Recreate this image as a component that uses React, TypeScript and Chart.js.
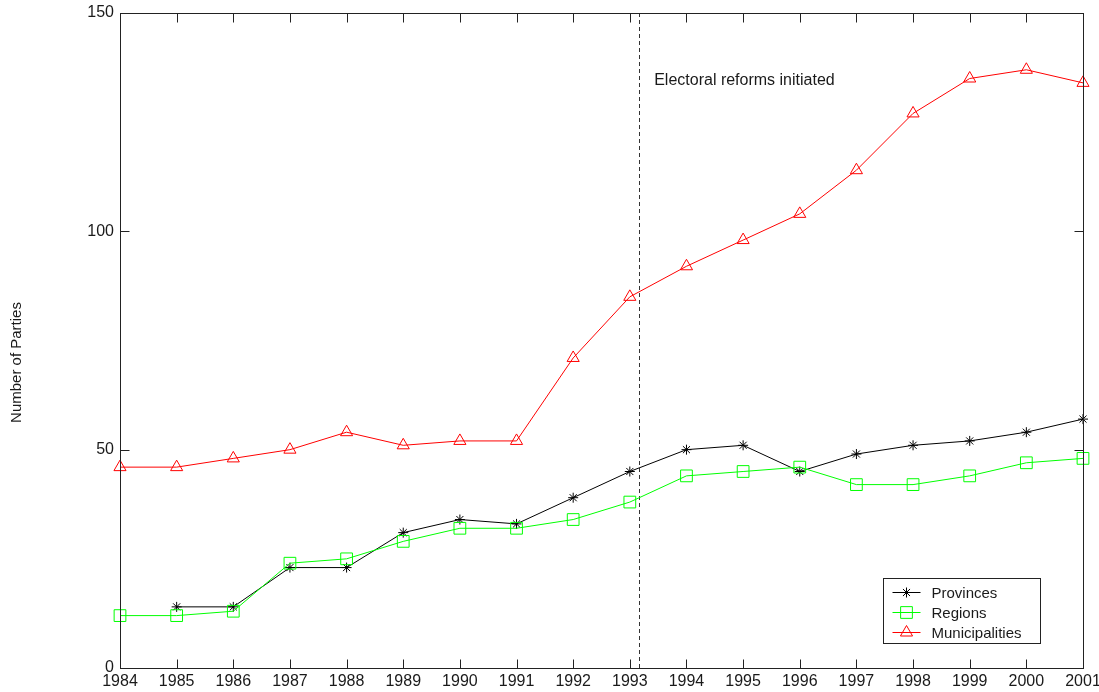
import React, { useEffect, useRef } from 'react';
import { Chart, registerables } from 'chart.js';

Chart.register(...registerables);

const years = [1984, 1985, 1986, 1987, 1988, 1989, 1990, 1991, 1992, 1993, 1994, 1995, 1996, 1997, 1998, 1999, 2000, 2001];
const provinces = [null, 14, 14, 23, 23, 31, 34, 33, 39, 45, 50, 51, 45, 49, 51, 52, 54, 57];
const regions = [12, 12, 13, 24, 25, 29, 32, 32, 34, 38, 44, 45, 46, 42, 42, 44, 47, 48];
const municipalities = [46, 46, 48, 50, 54, 51, 52, 52, 71, 85, 92, 98, 104, 114, 127, 135, 137, 134];
const seriesNames = ['Provinces', 'Regions', 'Municipalities'];
const yTicks = [0, 50, 100, 150];
const reformYear = 1993.17;
const annotationText = 'Electoral reforms initiated';
const annotationX = 1993.43;
const annotationY = 134.6;
const yTitle = 'Number of Parties';

const FONT = '"Liberation Sans", Arial, sans-serif';
const INK = '#1a1a1a';
const AXIS = '#222222';

function drawMarker(ctx: CanvasRenderingContext2D, style: string, x: number, y: number, r: number) {
  ctx.beginPath();
  if (style === 'star') {
    ctx.moveTo(x - r, y); ctx.lineTo(x + r, y);
    ctx.moveTo(x, y - r); ctx.lineTo(x, y + r);
    const d = r * Math.SQRT1_2;
    ctx.moveTo(x - d, y - d); ctx.lineTo(x + d, y + d);
    ctx.moveTo(x - d, y + d); ctx.lineTo(x + d, y - d);
  } else if (style === 'rect') {
    const s = r * Math.SQRT1_2;
    ctx.rect(x - s, y - s, 2 * s, 2 * s);
  } else if (style === 'triangle') {
    const w = r * Math.cos(Math.PI / 6);
    ctx.moveTo(x, y - r);
    ctx.lineTo(x + w, y + r * 0.5);
    ctx.lineTo(x - w, y + r * 0.5);
    ctx.closePath();
  }
  ctx.stroke();
}

const framePlugin = {
  id: 'matlabFrame',
  beforeDatasetsDraw(chart: any) {
    const { ctx, chartArea, scales } = chart;
    const px = Math.round(scales.x.getPixelForValue(reformYear)) + 0.5;
    ctx.save();
    ctx.strokeStyle = '#333333';
    ctx.lineWidth = 1;
    ctx.setLineDash([4, 3]);
    ctx.beginPath();
    ctx.moveTo(px, chartArea.top);
    ctx.lineTo(px, chartArea.bottom);
    ctx.stroke();
    ctx.restore();
  },
  afterDraw(chart: any) {
    const { ctx, chartArea, scales } = chart;
    const xs = scales.x;
    const ys = scales.y;
    const L = Math.round(chartArea.left) + 0.5;
    const R = Math.round(chartArea.right) + 0.5;
    const T = Math.round(chartArea.top) + 0.5;
    const B = Math.round(chartArea.bottom) + 0.5;
    ctx.save();
    ctx.strokeStyle = AXIS;
    ctx.lineWidth = 1;
    ctx.setLineDash([]);
    ctx.strokeRect(L, T, R - L, B - T);
    const tl = 9;
    ctx.beginPath();
    years.forEach((v) => {
      const p = Math.round(xs.getPixelForValue(v)) + 0.5;
      ctx.moveTo(p, B); ctx.lineTo(p, B - tl);
      ctx.moveTo(p, T); ctx.lineTo(p, T + tl);
    });
    yTicks.forEach((v) => {
      const p = Math.round(ys.getPixelForValue(v)) + 0.5;
      ctx.moveTo(L, p); ctx.lineTo(L + tl, p);
      ctx.moveTo(R, p); ctx.lineTo(R - tl, p);
    });
    ctx.stroke();

    // annotation
    ctx.fillStyle = INK;
    ctx.font = `16px ${FONT}`;
    ctx.textAlign = 'left';
    ctx.textBaseline = 'middle';
    ctx.fillText(annotationText, xs.getPixelForValue(annotationX), ys.getPixelForValue(annotationY));

    // y title
    ctx.save();
    ctx.font = `15px ${FONT}`;
    ctx.translate(17, (chartArea.top + chartArea.bottom) / 2 + 22);
    ctx.rotate(-Math.PI / 2);
    ctx.textAlign = 'center';
    ctx.textBaseline = 'middle';
    ctx.fillText(yTitle, 0, 0);
    ctx.restore();

    // legend
    const bx = Math.round(chartArea.right) - 200 + 0.5;
    const by = Math.round(chartArea.bottom) - 90 + 0.5;
    const bw = 157;
    const bh = 65;
    ctx.fillStyle = '#ffffff';
    ctx.fillRect(bx, by, bw, bh);
    ctx.strokeStyle = AXIS;
    ctx.strokeRect(bx, by, bw, bh);
    chart.data.datasets.forEach((ds: any, i: number) => {
      const ry = Math.round(by + 13 + i * 20) + 0.5;
      ctx.strokeStyle = ds.borderColor;
      ctx.lineWidth = 1;
      ctx.beginPath();
      ctx.moveTo(bx + 9, ry);
      ctx.lineTo(bx + 37, ry);
      ctx.stroke();
      drawMarker(ctx, ds.pointStyle, bx + 23, ry, ds.pointRadius);
      ctx.fillStyle = INK;
      ctx.font = `15px ${FONT}`;
      ctx.textAlign = 'left';
      ctx.textBaseline = 'middle';
      ctx.fillText(seriesNames[i], bx + 48, ry + 1);
    });
    ctx.restore();
  },
};

export default function App() {
  const canvasRef = useRef<HTMLCanvasElement | null>(null);

  useEffect(() => {
    if (!canvasRef.current) return;
    const toPoints = (arr: (number | null)[]) => years.map((yr, i) => ({ x: yr, y: arr[i] }));
    const chart = new Chart(canvasRef.current, {
      type: 'line',
      data: {
        datasets: [
          {
            label: seriesNames[0],
            data: toPoints(provinces),
            borderColor: '#000000',
            backgroundColor: 'transparent',
            pointBackgroundColor: 'transparent',
            pointBorderColor: '#000000',
            pointStyle: 'star',
            pointRadius: 5,
            borderWidth: 1,
            pointBorderWidth: 1,
            tension: 0,
            clip: false,
            order: 3,
          },
          {
            label: seriesNames[1],
            data: toPoints(regions),
            borderColor: '#00ff00',
            backgroundColor: 'transparent',
            pointBackgroundColor: 'transparent',
            pointBorderColor: '#00ff00',
            pointStyle: 'rect',
            pointRadius: 8.3,
            borderWidth: 1,
            pointBorderWidth: 1,
            tension: 0,
            clip: false,
            order: 2,
          },
          {
            label: seriesNames[2],
            data: toPoints(municipalities),
            borderColor: '#ff0000',
            backgroundColor: 'transparent',
            pointBackgroundColor: 'transparent',
            pointBorderColor: '#ff0000',
            pointStyle: 'triangle',
            pointRadius: 7,
            borderWidth: 1,
            pointBorderWidth: 1,
            tension: 0,
            clip: false,
            order: 1,
          },
        ] as any,
      },
      options: {
        animation: false,
        responsive: false,
        events: [],
        layout: { padding: { top: 13, right: 16, left: 0, bottom: 0 } },
        plugins: {
          legend: { display: false },
          tooltip: { enabled: false },
        },
        scales: {
          x: {
            type: 'linear',
            min: 1984,
            max: 2001,
            grid: { display: false, drawTicks: false },
            border: { display: false },
            ticks: {
              stepSize: 1,
              autoSkip: false,
              maxRotation: 0,
              padding: 4,
              color: INK,
              font: { family: FONT, size: 16 },
              callback: (v: any) => String(v),
            },
            afterFit: (scale: any) => {
              scale.height = 24;
              scale.paddingLeft = 0;
              scale.paddingRight = 0;
            },
          },
          y: {
            type: 'linear',
            min: 0,
            max: 150,
            grid: { display: false, drawTicks: false },
            border: { display: false },
            ticks: {
              stepSize: 50,
              padding: 6,
              color: INK,
              font: { family: FONT, size: 16 },
              callback: (v: any) => String(v),
            },
            afterFit: (scale: any) => {
              scale.width = 120;
              scale.paddingTop = 0;
              scale.paddingBottom = 0;
            },
          },
        },
      } as any,
      plugins: [framePlugin],
    });
    return () => chart.destroy();
  }, []);

  return (
    <div style={{ position: 'absolute', left: 0, top: 0, width: 1099, height: 692, background: '#ffffff' }}>
      <canvas ref={canvasRef} width={1099} height={692} style={{ display: 'block' }} />
    </div>
  );
}
